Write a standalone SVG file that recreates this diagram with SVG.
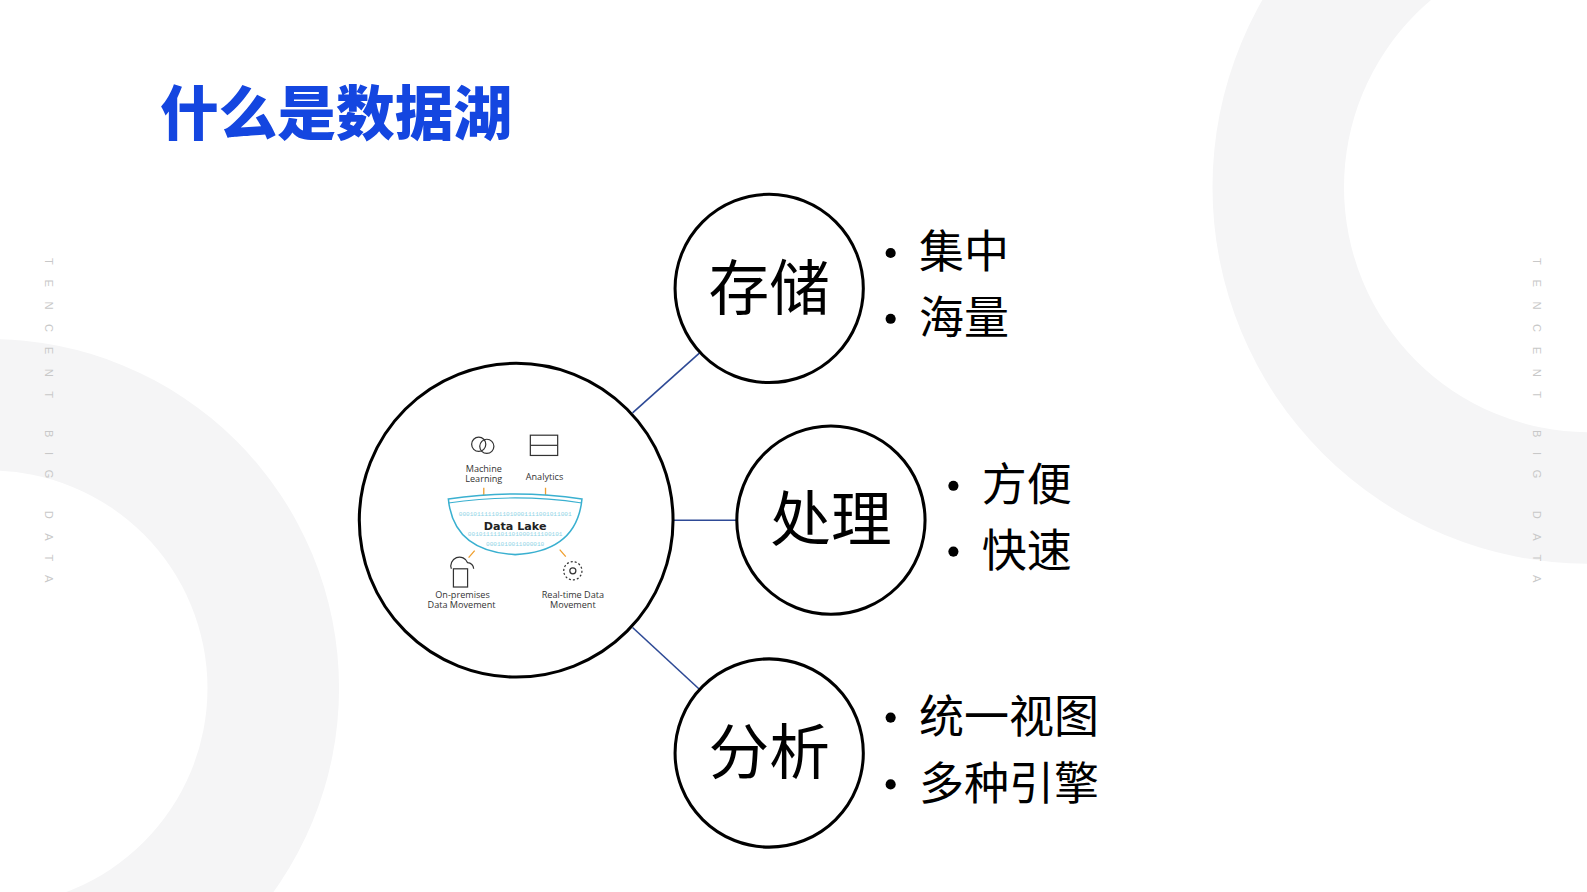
<svg xmlns="http://www.w3.org/2000/svg" width="1587" height="892" viewBox="0 0 1587 892">
<style>
.bg{fill:#f5f5f6}
.v{font-family:"Liberation Sans",sans-serif;font-size:11px;fill:#c8c8c8;letter-spacing:14.4px}
.node{fill:#fff;stroke:#000;stroke-width:3}
.big{font-family:"Noto Sans CJK SC",sans-serif;font-size:60px;fill:#000;text-anchor:middle}
.item{font-family:"Noto Sans CJK SC",sans-serif;font-size:44.5px;fill:#000}
.sm{font-family:"Open Sans","Liberation Sans",sans-serif;font-size:9px;fill:#333;text-anchor:middle}
.conn line{stroke:#2e4a96;stroke-width:1.6}
.or{stroke:#f0a030;stroke-width:1.3;fill:none}
</style>
<rect width="1587" height="892" fill="#fff"/>
<g transform="scale(1.0121)">
<path class="bg" fill-rule="evenodd" d="M-10,335 A345,345 0 1,1 -10,1025 A345,345 0 1,1 -10,335 Z M-10,465 A215,215 0 1,0 -10,895 A215,215 0 1,0 -10,465 Z"/>
<path class="bg" fill-rule="evenodd" d="M1570,-187 A372,372 0 1,1 1570,557 A372,372 0 1,1 1570,-187 Z M1570,-57 A242,242 0 1,0 1570,427 A242,242 0 1,0 1570,-57 Z"/>
<text class="v" transform="translate(44,255) rotate(90)">TENCENT BIG DATA</text>
<text class="v" transform="translate(1515,255) rotate(90)">TENCENT BIG DATA</text>
<text x="158" y="133" font-family="Noto Sans CJK SC,sans-serif" font-weight="900" font-size="58" fill="#1446e0">什么是数据湖</text>
<g class="conn">
<line x1="625" y1="408" x2="691" y2="349"/>
<line x1="665" y1="514" x2="728" y2="514"/>
<line x1="625" y1="620" x2="691" y2="681"/>
</g>
<g id="lake">
<circle class="node" cx="510" cy="514" r="155"/>
<g fill="none" stroke="#333" stroke-width="1.2">
<circle cx="473" cy="439" r="7"/><circle cx="481" cy="441" r="7"/>
<rect x="524" y="430" width="27" height="20"/><line x1="524" y1="440" x2="551" y2="440"/>
<rect x="448" y="562" width="14" height="18"/><path d="M446,562 a8,8 0 0,1 16,-6 a6,6 0 0,1 6,6"/>
<circle cx="566" cy="564" r="9" stroke-dasharray="2,2"/><circle cx="566" cy="564" r="3"/>
</g>
<text class="sm" x="478" y="466">Machine</text><text class="sm" x="478" y="476">Learning</text>
<text class="sm" x="538" y="474">Analytics</text>
<path class="or" d="M478,482v10M476,489l2,3 2,-3M539,482v10M537,489l2,3 2,-3M463,551l6,-7M553,543l6,7"/>
<path d="M443,493 Q509,483 575,493 Q570,545 509,548 Q448,545 443,493Z" fill="#fff" stroke="#3ab0d0" stroke-width="1.5"/>
<path d="M443,497 Q509,487 575,497" fill="none" stroke="#3ab0d0" stroke-width="1.2"/>
<text x="509" y="510" font-family="Liberation Mono,monospace" font-size="6" fill="#8fd3e6" text-anchor="middle">0001011111011010001111001011001</text>
<text x="509" y="530" font-family="Liberation Mono,monospace" font-size="6" fill="#8fd3e6" text-anchor="middle">00101111101101000111100101</text>
<text x="509" y="539" font-family="Liberation Mono,monospace" font-size="6" fill="#8fd3e6" text-anchor="middle">0001010011000010</text>
<text x="509" y="524" font-family="DejaVu Sans,sans-serif" font-weight="bold" font-size="11" fill="#222" text-anchor="middle">Data Lake</text>
<text class="sm" x="457" y="591">On-premises</text><text class="sm" x="456" y="601">Data Movement</text>
<text class="sm" x="566" y="591">Real-time Data</text><text class="sm" x="566" y="601">Movement</text>
</g>
<g id="store"><circle class="node" cx="760" cy="285" r="93"/><text class="big" x="760" y="306">存储</text></g>
<g id="proc"><circle class="node" cx="821" cy="514" r="93"/><text class="big" x="821" y="535">处理</text></g>
<g id="anal"><circle class="node" cx="760" cy="744" r="93"/><text class="big" x="760" y="765">分析</text></g>
<g id="l1"><circle cx="880" cy="250" r="5"/><text class="item" x="908" y="265">集中</text><circle cx="880" cy="315" r="5"/><text class="item" x="908" y="330">海量</text></g>
<g id="l2"><circle cx="942" cy="480" r="5"/><text class="item" x="970" y="495">方便</text><circle cx="942" cy="545" r="5"/><text class="item" x="970" y="560">快速</text></g>
<g id="l3"><circle cx="880" cy="709" r="5"/><text class="item" x="908" y="724">统一视图</text><circle cx="880" cy="775" r="5"/><text class="item" x="908" y="790">多种引擎</text></g>
</g>
</svg>
